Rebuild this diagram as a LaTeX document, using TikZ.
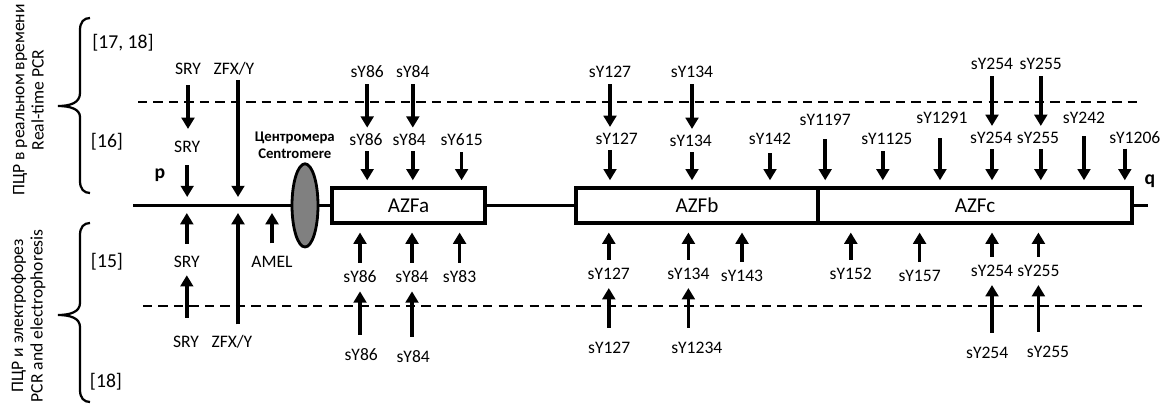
\documentclass[tikz,border=0pt]{standalone}
\usepackage{fontspec}
\setmainfont{Carlito}
\usetikzlibrary{shapes.geometric, arrows.meta, positioning, calc}
\definecolor{cengray}{RGB}{128,128,128}

\begin{document}
\begin{tikzpicture}[
  lbl/.style={inner sep=0pt, font=\fontsize{12.5}{15}\selectfont},
  ref/.style={inner sep=0pt, font=\fontsize{14}{16}\selectfont},
  side/.style={rotate=90, align=center, inner sep=0pt, font=\fontsize{12.5}{13.8}\selectfont},
  azf/.style={rectangle, draw, line width=2.3pt, fill=white, minimum height=0.875cm,
              inner sep=0pt, font=\fontsize{15}{18}\selectfont},
  arr/.style={line width=2.6pt, -{Triangle[width=9pt,length=8pt]},
              shorten <=0.15cm, shorten >=0.15cm},
  uarr/.style={arr, shorten <=0.2cm, shorten >=0.2cm},
  barr/.style={arr, shorten <=0.35cm, shorten >=0.2cm},
  dline/.style={line width=1.7pt, dash pattern=on 6.6pt off 4.4pt},
  brc/.style={line width=1.6pt},
  arm/.style={inner sep=0pt, font=\fontsize{14}{16}\selectfont\bfseries}
]
\useasboundingbox (0,0) rectangle (29.075,10.175);

%% боковые подписи и скобки
\node[side] (rt) at (0.71, 7.675) {ПЦР в реальном времени\\Real-time PCR};
\node[side] (ep) at (0.71, 2.28) {ПЦР и электрофорез\\PCR and electrophoresis};

\draw[brc] (2.25,9.725) .. controls (2.1,9.725) and (2.0,9.625) .. (2.0,9.425)
  -- (2.0,7.85) .. controls (2.0,7.6) and (1.75,7.525) .. (1.45,7.525)
  .. controls (1.75,7.525) and (2.0,7.45) .. (2.0,7.25)
  -- (2.0,5.65) .. controls (2.0,5.45) and (2.1,5.35) .. (2.25,5.35);
\draw[brc] (2.25,4.6) .. controls (2.1,4.6) and (2.0,4.5) .. (2.0,4.3)
  -- (2.0,2.6) .. controls (2.0,2.375) and (1.75,2.3) .. (1.45,2.3)
  .. controls (1.75,2.3) and (2.0,2.225) .. (2.0,2.0)
  -- (2.0,0.425) .. controls (2.0,0.225) and (2.1,0.125) .. (2.25,0.125);

\node[ref] (r1718) at (3.075, 9.1)   {[17, 18]};
\node[ref] (r16)   at (2.675, 6.625) {[16]};
\node[ref] (r15)   at (2.675, 3.625) {[15]};
\node[ref] (r18)   at (2.65, 0.625)  {[18]};

%% пунктирные линии
\draw[dline] (3.45,7.625) -- (28.575,7.625);
\draw[dline] (3.575,2.525) -- (28.7,2.525);

%% хромосома
\coordinate (pl) at (3.325,5.04);
\coordinate (pr) at (28.7,5.04);
\draw[line width=2.3pt] (pl) -- (pr);

\node[azf, minimum width=3.825cm] (azfa) at (10.2125, 5.04) {AZFa};
\node[azf, minimum width=6.05cm]  (azfb) at (17.425, 5.04)  {AZFb};
\node[azf, minimum width=7.85cm]  (azfc) at (24.375, 5.04)  {AZFc};

\node[ellipse, draw, line width=2pt, fill=cengray, minimum width=0.65cm,
      minimum height=2.08cm, inner sep=0pt] (cen) at (7.625, 5.04) {};
\node[align=center, inner sep=0pt, font=\fontsize{10.5}{12}\selectfont\bfseries]
  (cenlbl) at (7.37, 6.55) {Центромера\\Centromere};

\node[arm] (parm) at (4.0, 5.8)  {p};
\node[arm] (qarm) at (28.75, 5.65) {q};

%% Real-time PCR: верхний ряд
\node[lbl] (tsry) at (4.7, 8.45)   {SRY};
\node[lbl] (tzfx) at (5.85, 8.45)  {ZFX/Y};
\node[lbl] (t86)  at (9.18, 8.375) {sY86};
\node[lbl] (t84)  at (10.32, 8.375) {sY84};
\node[lbl] (t127) at (15.25, 8.375) {sY127};
\node[lbl] (t134) at (17.3, 8.375)  {sY134};
\node[lbl] (t254) at (24.8, 8.575)  {sY254};
\node[lbl] (t255) at (26.02, 8.575) {sY255};

%% Real-time PCR: средний ряд
\node[lbl] (msry)  at (4.68, 6.5)   {SRY};
\node[lbl] (m86)   at (9.15, 6.675) {sY86};
\node[lbl] (m84)   at (10.23, 6.675) {sY84};
\node[lbl] (m615)  at (11.54, 6.675) {sY615};
\node[lbl] (m127)  at (15.42, 6.7)  {sY127};
\node[lbl] (m134)  at (17.27, 6.65) {sY134};
\node[lbl] (m142)  at (19.25, 6.7)  {sY142};
\node[lbl] (m1197) at (20.63, 7.175) {sY1197};
\node[lbl] (m1125) at (22.17, 6.7)  {sY1125};
\node[lbl] (m1291) at (23.55, 7.225) {sY1291};
\node[lbl] (m254)  at (24.78, 6.725) {sY254};
\node[lbl] (m255)  at (25.95, 6.725) {sY255};
\node[lbl] (m242)  at (27.1, 7.225) {sY242};
\node[lbl] (m1206) at (28.37, 6.74) {sY1206};

\draw[arr, shorten <=0.25cm, shorten >=0.3cm] (tsry.south) -- (tsry.south |- msry.north);
\draw[arr, shorten <=0.3cm, shorten >=0.21cm] (msry.south) -- (msry.south |- pl);
\draw[arr, shorten <=0.1cm, shorten >=0.21cm] ([xshift=0.1cm]tzfx.south) -- ([xshift=0.1cm]tzfx.south |- pl);
\foreach \t/\m/\b in {t86/m86/azfa, t84/m84/azfa, t127/m127/azfb, t134/m134/azfb,
                      t254/m254/azfc, t255/m255/azfc} {
  \draw[arr] (\t.south) -- (\t.south |- \m.north);
  \draw[arr, shorten <=0.125cm] (\m.south -| \t) -- (\t |- \b.north);
}
\draw[arr] (m615.south) -- (m615.south |- azfa.north);
\draw[arr, shorten <=0.2cm] (m142.south) -- (m142.south |- azfb.north);
\draw[arr, shorten <=0.33cm] (m1197.south) -- (m1197.south |- azfc.north);
\draw[arr] ([xshift=-0.1cm]m1125.south) -- ([xshift=-0.1cm]m1125.south |- azfc.north);
\draw[arr, shorten <=0.35cm] ([xshift=-0.05cm]m1291.south) -- ([xshift=-0.05cm]m1291.south |- azfc.north);
\draw[arr, shorten <=0.3cm] (m242.south) -- (m242.south |- azfc.north);
\draw[arr, shorten <=0.125cm] ([xshift=-0.25cm]m1206.south) -- ([xshift=-0.25cm]m1206.south |- azfc.north);

%% PCR and electrophoresis: нижние ряды
\node[lbl] (lsry)  at (4.67, 3.625) {SRY};
\node[lbl] (lamel) at (6.8, 3.625)  {AMEL};
\node[lbl] (bsry)  at (4.65, 1.625) {SRY};
\node[lbl] (bzfx)  at (5.8, 1.625)  {ZFX/Y};
\node[lbl] (l86)   at (9.0, 3.25)   {sY86};
\node[lbl] (l84)   at (10.3, 3.25)  {sY84};
\node[lbl] (l83)   at (11.49, 3.25) {sY83};
\node[lbl] (b86)   at (9.03, 1.3)   {sY86};
\node[lbl] (b84)   at (10.33, 1.25) {sY84};
\node[lbl] (l127)  at (15.22, 3.325) {sY127};
\node[lbl] (l134)  at (17.21, 3.325) {sY134};
\node[lbl] (l143)  at (18.55, 3.275) {sY143};
\node[lbl] (l152)  at (21.27, 3.325) {sY152};
\node[lbl] (l157)  at (22.99, 3.275) {sY157};
\node[lbl] (l254)  at (24.8, 3.4)   {sY254};
\node[lbl] (l255)  at (25.96, 3.4)  {sY255};
\node[lbl] (b127)  at (15.23, 1.475) {sY127};
\node[lbl] (b1234) at (17.42, 1.475) {sY1234};
\node[lbl] (b254)  at (24.68, 1.35) {sY254};
\node[lbl] (b255)  at (26.2, 1.375) {sY255};

\draw[arr, shorten <=0.3cm, shorten >=0.19cm] (lsry.north) -- (lsry.north |- pl);
\draw[arr, shorten <=0.45cm, shorten >=0.18cm] (lsry.south |- bsry.north) -- (lsry.south);
\draw[arr, shorten <=0.27cm, shorten >=0.19cm] ([xshift=0.15cm]bzfx.north) -- ([xshift=0.15cm]bzfx.north |- pl);
\draw[arr, shorten <=0.32cm, shorten >=0.19cm] (lamel.north) -- (lamel.north |- pl);
\foreach \l/\b in {l86/azfa, l84/azfa, l83/azfa, l127/azfb, l134/azfb, l143/azfb,
                   l152/azfc, l157/azfc, l254/azfc, l255/azfc} {
  \draw[uarr] (\l.north) -- (\l.north |- \b.south);
}
\foreach \b/\l in {b86/l86, b84/l84, b127/l127, b1234/l134, b254/l254, b255/l255} {
  \draw[barr] (\l.south |- \b.north) -- (\l.south);
}

\end{tikzpicture}
\end{document}
